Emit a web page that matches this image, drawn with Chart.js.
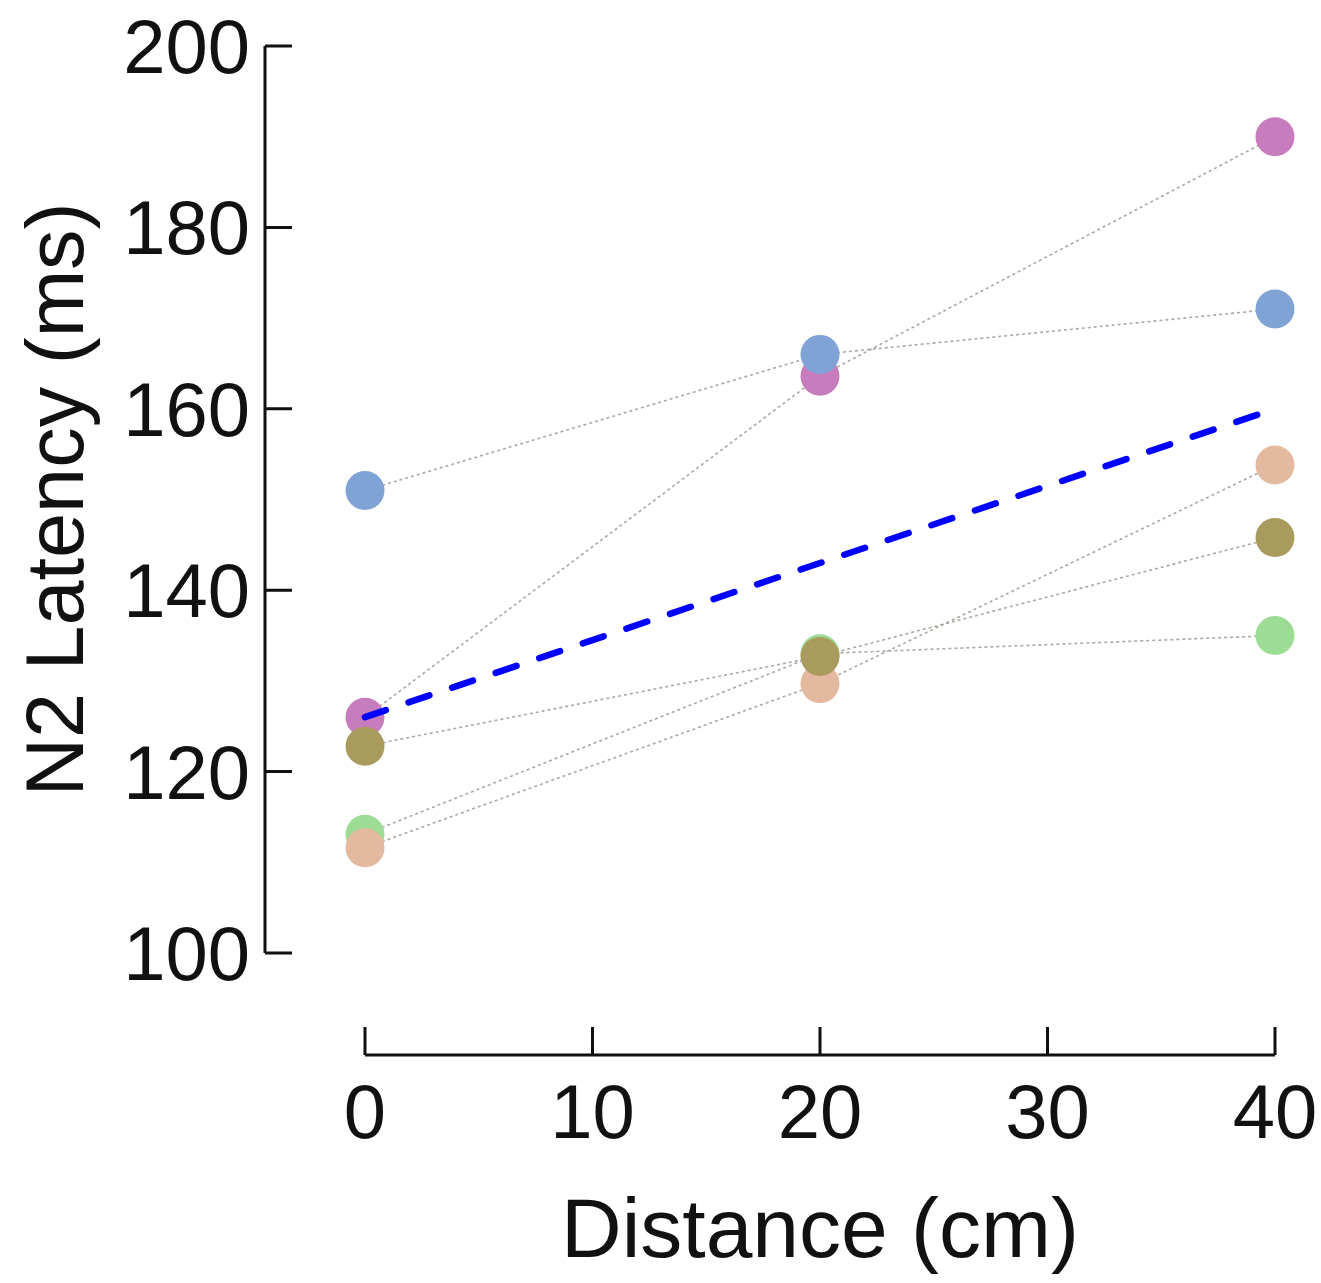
<!DOCTYPE html>
<html>
<head>
<meta charset="utf-8">
<title>N2 Latency vs Distance</title>
<script src="https://cdn.jsdelivr.net/npm/chart.js@4.4.1/dist/chart.umd.min.js"></script>
<style>
  html, body { margin: 0; padding: 0; background: #fff; }
  canvas { display: block; }
</style>
</head>
<body>
<canvas id="latencyChart" width="1321" height="1283"></canvas>
<script>
// distances (cm)
const distances = [0, 20, 40];
const xTicks = [0, 10, 20, 30, 40];
const yTicks = [100, 120, 140, 160, 180, 200];

// N2 latency (ms) per subject
const subjectBlue = [151, 166, 171];
const subjectMagenta = [126, 163.6, 190];
const subjectOlive = [122.8, 132.7, 145.8];
const subjectGreen = [113.1, 133, 135];
const subjectPeach = [111.6, 129.7, 153.8];
// group trend
const meanLatency = [126, 143, 160];

const FONT = '"Liberation Sans", Arial, Helvetica, sans-serif';

function toPoints(values) {
    return distances.map((d, i) => ({ x: d, y: values[i] }));
}

function subject(values, color, order) {
    return {
        data: toPoints(values),
        order: order,
        clip: false,
        borderColor: 'rgba(160, 160, 150, 0.9)',
        borderWidth: 1.6,
        borderDash: [3, 3],
        pointRadius: 19.5,
        pointBackgroundColor: color,
        pointBorderWidth: 0,
        fill: false
    };
}

// prism-style detached axes with inward ticks, labels and titles
const offsetAxes = {
    id: 'offsetAxes',
    beforeDatasetsDraw(chart) {
        const { ctx, chartArea, scales } = chart;
        const xs = scales.x, ys = scales.y;
        const axisX = chartArea.left - 100;
        const axisY = chartArea.bottom + 102;
        ctx.save();
        ctx.strokeStyle = '#111';
        ctx.lineWidth = 3;
        ctx.beginPath();
        ctx.moveTo(axisX, ys.getPixelForValue(yTicks[yTicks.length - 1]));
        ctx.lineTo(axisX, ys.getPixelForValue(yTicks[0]));
        yTicks.forEach(v => {
            const py = ys.getPixelForValue(v);
            ctx.moveTo(axisX, py);
            ctx.lineTo(axisX + 27, py);
        });
        ctx.moveTo(xs.getPixelForValue(xTicks[0]), axisY);
        ctx.lineTo(xs.getPixelForValue(xTicks[xTicks.length - 1]), axisY);
        xTicks.forEach(v => {
            const px = xs.getPixelForValue(v);
            ctx.moveTo(px, axisY);
            ctx.lineTo(px, axisY - 28);
        });
        ctx.stroke();

        ctx.fillStyle = '#111';
        ctx.textBaseline = 'alphabetic';

        // tick labels
        ctx.font = '76px ' + FONT;
        ctx.textAlign = 'right';
        yTicks.forEach(v => {
            ctx.fillText(String(v), axisX - 15, ys.getPixelForValue(v) + 27);
        });
        ctx.textAlign = 'center';
        xTicks.forEach(v => {
            ctx.fillText(String(v), xs.getPixelForValue(v), axisY + 83);
        });

        // axis titles
        ctx.font = '84px ' + FONT;
        ctx.fillText('Distance (cm)', (chartArea.left + chartArea.right) / 2, axisY + 202);

        ctx.font = '81px ' + FONT;
        ctx.translate(83, (chartArea.top + chartArea.bottom) / 2);
        ctx.rotate(-Math.PI / 2);
        ctx.fillText('N2 Latency (ms)', 0, 0);
        ctx.restore();
    }
};

const ctx = document.getElementById('latencyChart').getContext('2d');

const chart = new Chart(ctx, {
    type: 'line',
    data: {
        datasets: [
            {
                data: toPoints(meanLatency),
                order: 0,
                clip: false,
                borderColor: '#0000ff',
                borderWidth: 6.5,
                borderDash: [22, 24],
                borderCapStyle: 'round',
                pointRadius: 0,
                fill: false
            },
            subject(subjectBlue, '#80a3d6', 1),
            subject(subjectOlive, '#a99b5e', 2),
            subject(subjectPeach, '#e3b9a0', 3),
            subject(subjectGreen, '#9ddc94', 4),
            subject(subjectMagenta, '#c67cbd', 5)
        ]
    },
    options: {
        responsive: false,
        animation: false,
        layout: { padding: { top: 46, right: 46, left: 365, bottom: 330 } },
        plugins: {
            legend: { display: false },
            tooltip: { enabled: false }
        },
        scales: {
            x: { type: 'linear', display: false, min: 0, max: 40 },
            y: { type: 'linear', display: false, min: 100, max: 200 }
        }
    },
    plugins: [offsetAxes]
});
</script>
</body>
</html>
